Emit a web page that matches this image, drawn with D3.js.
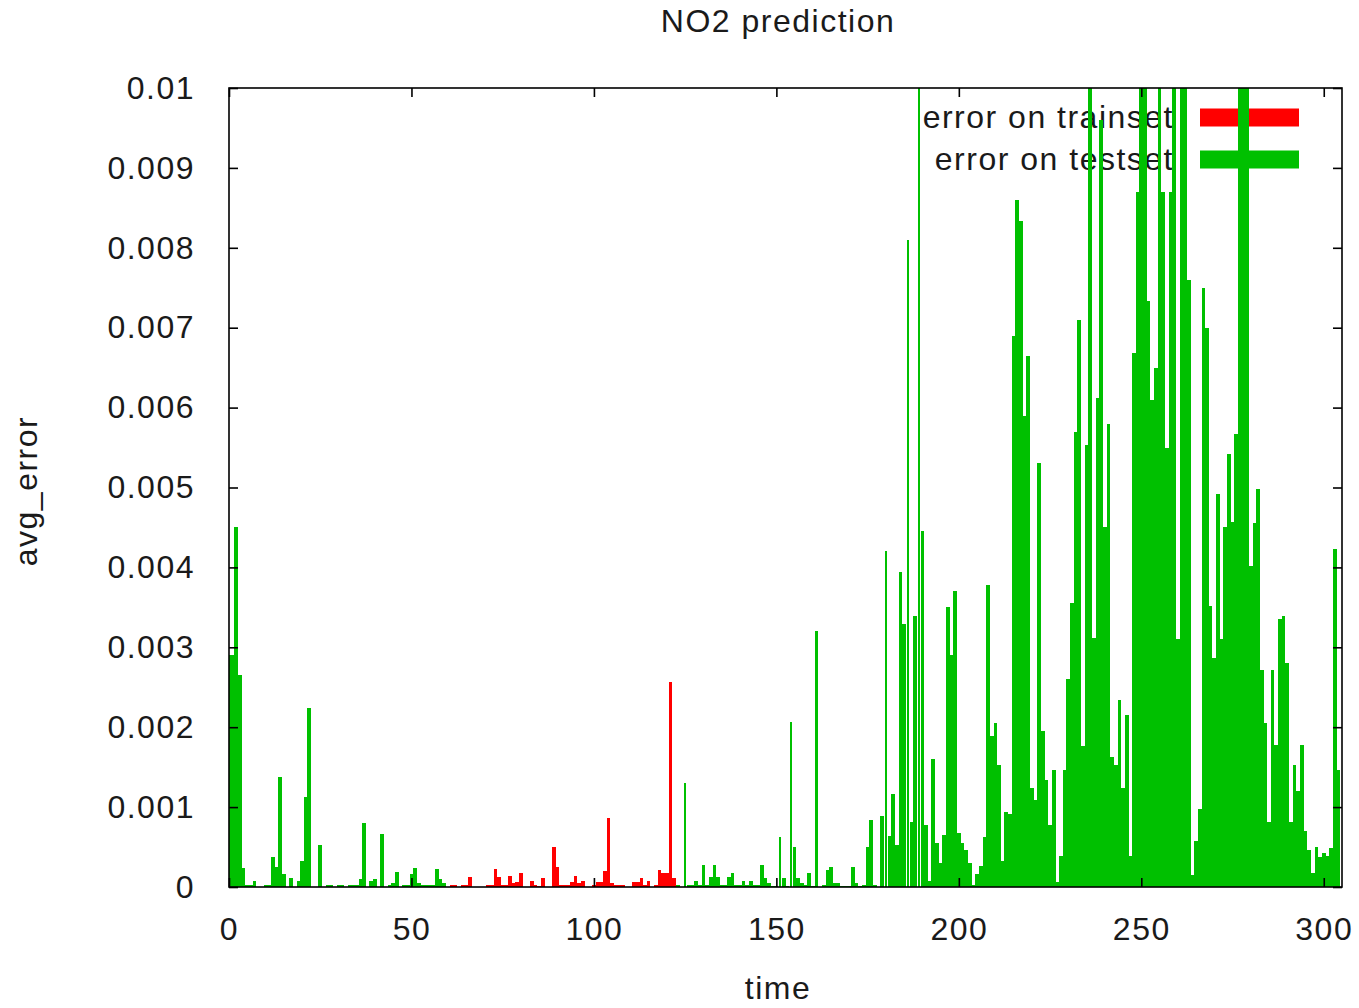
<!DOCTYPE html>
<html>
<head>
<meta charset="utf-8">
<script src="https://cdn.jsdelivr.net/npm/d3@7"></script>
<style>
  body { margin: 0; background: #fff; }
  text { font-family: "Liberation Sans", Arial, sans-serif; fill: #1a1a1a; }
</style>
</head>
<body>
<div id="chart"></div>
<script>
// time 0..60 (test)
const testHead = [
  .0029, .0029, .0045, .00265, .00024, .00003, .00003, .00008, 0, 0,
  .00003, .00003, .00038, .00025, .00138, .00016, 0, .00011, 0, .00008,
  .00033, .00113, .00224, 0, 0, .00052, 0, .00003, .00003, 0,
  .00003, .00003, 0, .00003, .00003, .00003, .0001, .0008, 0, .00008,
  .0001, 0, .00066, 0, .00003, .00005, .00019, 0, .00003, .00003,
  .00016, .00024, .00005, .00003, .00003, .00003, .00003, .00022, .0001, .00005,
  0
]
// time 61..122 (train)
const trainErr = [
  .00003, .00002, 0, .00003, .00003, .00013, 0, 0, 0, 0,
  .00003, .00003, .00023, .00013, .00003, .00003, .00014, .00005, .00006, .00017,
  0, 0, .00008, .00003, .00001, .00011, 0, 0, .0005, .00025,
  .00003, .00003, .00003, .00006, .00014, .00005, .00008, 0, 0, .00003,
  .00006, .00006, .0002, .00086, .00005, .00003, .00003, .00003, 0, 0,
  .00006, .00006, .00011, .00003, .00008, 0, .00003, .00021, .00017, .00017,
  .00257, .00011
]
// time 123..304 (test)
const testTail = [
  .00003, 0, .0013, .00003, .00003, .00008, .00003, .00027, .00003, .00013,
  .00027, .00013, .00003, .00003, .00013, .00018, .00003, .00003, .00008, .00003,
  .00008, .00003, .00003, .00027, .00011, .00005, .00001, .00001, .00063, .00011,
  .00001, .00207, .0005, .00011, .00005, .00003, .00018, .00001, .0032, 0,
  .00003, .00021, .00025, .00005, .00005, .00001, .00001, .00001, .00025, .00005,
  .00001, .00002, .0005, .00084, .00003, 0, .00089, .0042, .00064, .00117,
  .00052, .00394, .00329, .0081, .00081, .00339, .012, .00446, .00078, .00007,
  .0016, .00055, .0003, .00065, .0035, .0029, .0037, .00068, .00055, .00046,
  .0003, .00003, .00016, .00026, .00062, .00378, .00189, .00205, .00153, .00033,
  .00094, .00091, .0069, .0086, .00834, .0059, .00665, .00124, .00109, .00531,
  .00195, .00134, .00078, .00147, .00006, .00039, .00147, .0026, .00355, .0057,
  .0071, .00176, .00553, .0125, .00312, .00612, .0096, .0045, .0058, .00163,
  .00153, .00234, .00124, .00215, .00039, .00668, .0087, .011, .011, .00733,
  .0061, .0065, .011, .0087, .0055, .0087, .011, .0031, .011, .011,
  .0076, .00015, .00058, .00098, .0075, .007, .00352, .00287, .00492, .0031,
  .0045, .00542, .00457, .00567, .011, .011, .011, .00402, .00456, .00498,
  .00271, .00205, .00081, .00271, .00178, .00335, .00339, .0028, .00081, .00153,
  .0012, .00178, .0007, .00046, .00017, .0005, .00037, .00042, .00039, .00049,
  .00423, .00147
]
const trainStart = 61
const tailStart = 123
// single-sample spikes that show up as hairlines
const thinTimes = [125, 151, 154, 180, 186, 189]

const xTicks = [0, 50, 100, 150, 200, 250, 300]
const yTicks = [0, .001, .002, .003, .004, .005, .006, .007, .008, .009, .01]
const yTickLabels = ['0', '0.001', '0.002', '0.003', '0.004', '0.005', '0.006', '0.007', '0.008', '0.009', '0.01']

const testSet = testHead.map((v, i) => ({t: i, v}))
  .concat(testTail.map((v, i) => ({t: tailStart + i, v})))
const trainSet = trainErr.map((v, i) => ({t: trainStart + i, v}))

const W = 1359, H = 1008
const plot = {left: 229, right: 1342, top: 88, bottom: 887}

const x = d3.scaleLinear().domain([0, 305]).range([plot.left, plot.right])
const y = d3.scaleLinear().domain([0, 0.01]).range([plot.bottom, plot.top])

const svg = d3.select('#chart').append('svg')
    .attr('width', W)
    .attr('height', H)

svg.append('defs').append('clipPath')
    .attr('id', 'plotclip')
  .append('rect')
    .attr('x', plot.left).attr('y', plot.top)
    .attr('width', plot.right - plot.left).attr('height', plot.bottom - plot.top)

const fontSize = 32
const spacing = '1.5px'

svg.append('text')
    .attr('x', 778).attr('y', 32)
    .attr('text-anchor', 'middle')
    .style('font-size', fontSize + 'px')
    .style('letter-spacing', spacing)
    .text('NO2 prediction')

svg.append('text')
    .attr('x', 778).attr('y', 999)
    .attr('text-anchor', 'middle')
    .style('font-size', fontSize + 'px')
    .style('letter-spacing', spacing)
    .text('time')

svg.append('text')
    .attr('transform', 'translate(37,491) rotate(-90)')
    .attr('text-anchor', 'middle')
    .style('font-size', fontSize + 'px')
    .style('letter-spacing', spacing)
    .text('avg_error')

// legend (drawn under the bars, like gnuplot does)
const legend = [
  {label: 'error on trainset', color: '#ff0000', y: 117.5},
  {label: 'error on testset', color: '#00c000', y: 159.5}
]
const key = svg.selectAll('.key')
    .data(legend)
  .enter().append('g')
    .attr('class', 'key')
key.append('text')
    .attr('x', 1174)
    .attr('y', d => d.y + 10)
    .attr('text-anchor', 'end')
    .style('font-size', fontSize + 'px')
    .style('letter-spacing', spacing)
    .text(d => d.label)
key.append('rect')
    .attr('x', 1200).attr('y', d => d.y - 9)
    .attr('width', 99).attr('height', 18)
    .attr('fill', d => d.color)

const bw = x(1) - x(0)
const bars = svg.append('g')
    .attr('clip-path', 'url(#plotclip)')
    .attr('shape-rendering', 'crispEdges')

function drawBars (data, color) {
  bars.append('g')
      .attr('fill', color)
    .selectAll('rect')
      .data(data)
    .enter().append('rect')
      .attr('x', d => thinTimes.includes(d.t) ? x(d.t) - 0.9 : x(d.t) - bw / 2)
      .attr('width', d => thinTimes.includes(d.t) ? 1.8 : bw)
      .attr('y', d => y(d.v))
      .attr('height', d => plot.bottom - y(d.v))
}
drawBars(trainSet, '#ff0000')
drawBars(testSet, '#00c000')

// axes: inward ticks on all four sides, labels only left and bottom
const axes = svg.append('g').attr('class', 'axes')

axes.append('g')
    .attr('transform', `translate(0,${plot.bottom})`)
    .call(d3.axisBottom(x).tickValues(xTicks).tickSize(-9).tickPadding(30).tickFormat(d3.format('d')))
axes.append('g')
    .attr('transform', `translate(0,${plot.top})`)
    .call(d3.axisTop(x).tickValues(xTicks).tickSize(-9).tickFormat(''))
axes.append('g')
    .attr('transform', `translate(${plot.left},0)`)
    .call(d3.axisLeft(y).tickValues(yTicks).tickSize(-9).tickPadding(34).tickFormat((d, i) => yTickLabels[i]))
axes.append('g')
    .attr('transform', `translate(${plot.right},0)`)
    .call(d3.axisRight(y).tickValues(yTicks).tickSize(-9).tickFormat(''))

axes.selectAll('.domain').remove()
axes.selectAll('.tick line')
    .attr('stroke', '#000')
    .attr('stroke-width', 1.6)
axes.selectAll('.tick text')
    .style('font-family', '"Liberation Sans", Arial, sans-serif')
    .style('font-size', fontSize + 'px')
    .style('letter-spacing', spacing)
    .attr('fill', '#1a1a1a')

axes.append('rect')
    .attr('x', plot.left).attr('y', plot.top)
    .attr('width', plot.right - plot.left).attr('height', plot.bottom - plot.top)
    .attr('fill', 'none')
    .attr('stroke', '#000')
    .attr('stroke-width', 1.6)
</script>
</body>
</html>
